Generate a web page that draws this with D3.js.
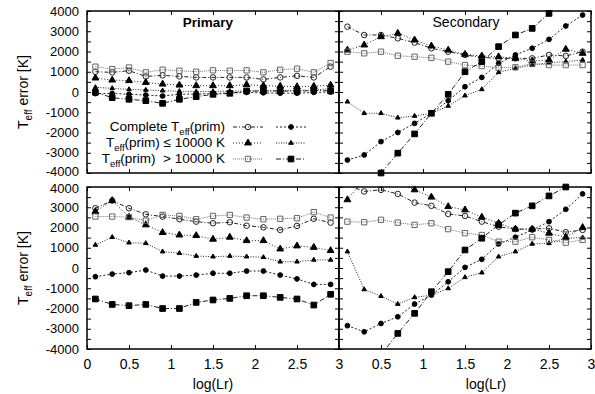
<!DOCTYPE html>
<html><head><meta charset="utf-8">
<script src="https://cdn.jsdelivr.net/npm/d3@7"></script>
<style>
html,body{margin:0;padding:0;background:#fff;}
svg text{font-family:"Liberation Sans",Arial,Helvetica,sans-serif;fill:#000;}
</style></head>
<body><svg id="c" width="595" height="394"></svg>
<script>
// ---------- data ----------
const xPositions = [0.1,0.3,0.5,0.7,0.9,1.1,1.3,1.5,1.7,1.9,2.1,2.3,2.5,2.7,2.9];
const xTickValues = [0,0.5,1,1.5,2,2.5,3];
const yTickValues = [-4000,-3500,-3000,-2500,-2000,-1500,-1000,-500,0,500,1000,1500,2000,2500,3000,3500,4000];
const yLabelValues = [-4000,-3000,-2000,-1000,0,1000,2000,3000,4000];
const panelTitles = ["Primary","Secondary"];
const legendLabels = ["Complete T|eff|(prim)", "T|eff|(prim) \u2264 10000 K", "T|eff|(prim)  > 10000 K"];

// Top row, Primary
const topPriCompleteOpen   = [1000,970,1050,770,820,770,720,720,720,720,620,720,800,720,1250];
const topPriCompleteFilled = [-80,-70,-110,-150,-200,-110,-100,-80,-50,-20,-40,-60,-60,-20,0];
const topPriCoolOpen       = [690,590,560,470,390,340,310,310,310,360,310,290,260,280,340];
const topPriCoolFilled     = [230,180,130,100,65,40,15,30,40,50,60,70,80,90,170];
const topPriHotOpen        = [1250,1130,1210,970,1100,1050,1000,1070,1050,1070,970,1100,1150,970,1430];
const topPriHotFilled      = [-15,-280,-360,-430,-560,-360,-230,-115,-65,50,50,50,30,80,50];
// Top row, Secondary
const topSecCompleteOpen   = [3225,2815,2815,2650,2440,2160,1990,1830,1710,1660,1660,1660,1830,1780,1990];
const topSecCompleteFilled = [-3360,-3110,-2450,-2000,-1550,-1050,-430,260,720,1410,1830,2160,2600,3260,3800];
const topSecCoolOpen       = [2070,2320,2730,2900,2570,2270,2070,1860,1780,1740,1660,1530,1580,2110,1910];
const topSecCoolFilled     = [-480,-1050,-1050,-1270,-1185,-1050,-690,-180,130,970,1170,1330,1450,1500,1580];
const topSecHotOpen        = [1990,1910,1990,1790,1740,1690,1500,1330,1280,1200,1220,1410,1330,1330,1330];
const topSecHotFilled      = [null,null,-4000,-3020,-2070,-1050,-115,1000,1500,2240,2815,3140,3880,4800,null];
// Bottom row, Primary
const botPriCompleteOpen   = [2950,3330,2950,2650,2540,2410,2290,2210,2260,2090,2010,1880,2080,2430,2240];
const botPriCompleteFilled = [-430,-300,-230,-100,-400,-400,-350,-260,-260,-150,-150,-350,-540,-810,-810];
const botPriCoolOpen       = [2790,3330,2510,2130,1750,1630,1600,1420,1520,1350,1350,940,1090,1020,860];
const botPriCoolFilled     = [1140,1520,1250,1220,810,730,590,560,590,560,530,310,310,400,400];
const botPriHotOpen        = [2540,2540,2510,2340,2620,2570,2410,2570,2620,2490,2410,2430,2460,2760,2490];
const botPriHotFilled      = [-1530,-1800,-1860,-1800,-2000,-2000,-1700,-1580,-1500,-1370,-1370,-1450,-1530,-1830,-1300];
// Bottom row, Secondary
const botSecCompleteOpen   = [4100,3780,3860,3660,3230,3070,2670,2570,2290,2040,1920,1920,1960,1770,1880];
const botSecCompleteFilled = [-2850,-3150,-2740,-2410,-1780,-1340,-680,30,430,1190,1520,1880,2290,2900,3660];
const botSecCoolOpen       = [3370,4400,4300,4200,3860,3500,3030,2870,2510,2210,1920,1920,1720,1520,2000];
const botSecCoolFilled     = [810,-1060,-1390,-1780,-1450,-1340,-1010,-460,-230,560,810,1190,1220,1470,1500];
const botSecHotOpen        = [2290,2260,2380,2240,2130,2210,1920,1720,1630,1300,1300,1520,1390,1250,1390];
const botSecHotFilled      = [null,null,-4300,-3230,-2240,-1170,-180,890,1470,2130,2710,3070,3560,4000,null];

// ---------- styles ----------
const seriesStyles = [
  {sym:d3.symbolCircle,   size:24, fill:"none", stroke:"#222", line:"#222", dash:"4,2,1,2"},
  {sym:d3.symbolCircle,   size:18, fill:"#000", stroke:"#000", line:"#222", dash:"2,2"},
  {sym:d3.symbolTriangle, size:20, fill:"#000", stroke:"#000", line:"#222", dash:"1,2"},
  {sym:d3.symbolTriangle, size:9,  fill:"#000", stroke:"#000", line:"#222", dash:"1,1.5"},
  {sym:d3.symbolSquare,   size:28, fill:"none", stroke:"#666", line:"#777", dash:"1,1"},
  {sym:d3.symbolSquare,   size:32, fill:"#000", stroke:"#000", line:"#222", dash:"5,2,1,2"}
];

const panels = [
  {x0:87,  x1:339, y0:11,  y1:173, ylab:true,  xlab:false, title:0, data:[topPriCompleteOpen,topPriCompleteFilled,topPriCoolOpen,topPriCoolFilled,topPriHotOpen,topPriHotFilled]},
  {x0:339, x1:591, y0:11,  y1:173, ylab:false, xlab:false, title:1, data:[topSecCompleteOpen,topSecCompleteFilled,topSecCoolOpen,topSecCoolFilled,topSecHotOpen,topSecHotFilled]},
  {x0:87,  x1:339, y0:187, y1:349, ylab:true,  xlab:true,  title:-1, data:[botPriCompleteOpen,botPriCompleteFilled,botPriCoolOpen,botPriCoolFilled,botPriHotOpen,botPriHotFilled]},
  {x0:339, x1:591, y0:187, y1:349, ylab:false, xlab:true,  title:-1, data:[botSecCompleteOpen,botSecCompleteFilled,botSecCoolOpen,botSecCoolFilled,botSecHotOpen,botSecHotFilled]}
];

const svg = d3.select("#c");
const FS = 14;
const TFS = 13;

function richText(sel, str, subSize, subDy){
  const parts = str.split("|");
  parts.forEach((p,i)=>{
    if(p==="") return;
    const t = sel.append("tspan").text(p);
    if(i%2===1){ t.attr("font-size",subSize).attr("dy",subDy); }
    else if(i>0){ t.attr("dy",-subDy); }
  });
}

panels.forEach((P,pi)=>{
  const x = d3.scaleLinear().domain([0,3]).range([P.x0,P.x1]);
  const y = d3.scaleLinear().domain([-4000,4000]).range([P.y1,P.y0]);
  const g = svg.append("g");
  const clipId = "clip"+pi;
  svg.append("clipPath").attr("id",clipId).append("rect")
    .attr("x",P.x0).attr("y",P.y0).attr("width",P.x1-P.x0).attr("height",P.y1-P.y0);

  // axes
  const left = d3.axisLeft(y).tickValues(yTickValues).tickSize(-4).tickPadding(8)
    .tickFormat(d => (P.ylab && yLabelValues.includes(d)) ? String(d) : "");
  const right = d3.axisRight(y).tickValues(yTickValues).tickSize(-4).tickFormat(()=> "");
  const bottom = d3.axisBottom(x).tickValues(xTickValues).tickSize(-4).tickPadding(10)
    .tickFormat(d => (P.xlab && !(pi===3 && d===0)) ? String(d) : "");
  const top = d3.axisTop(x).tickValues(xTickValues).tickSize(-4).tickFormat(()=> "");
  [[left,`translate(${P.x0},0)`,"l"],[right,`translate(${P.x1},0)`,"r"],[bottom,`translate(0,${P.y1})`,"b"],[top,`translate(0,${P.y0})`,"t"]]
    .forEach(([ax,tr,k])=>{
      const a = g.append("g").attr("transform",tr).call(ax);
      a.select(".domain").remove();
      a.selectAll("line").attr("stroke","#000").attr("stroke-width",1);
      a.selectAll("text").attr("font-size",k==="l"?TFS:FS).attr("font-family","Liberation Sans, Arial, sans-serif").attr("fill","#000");
      if(k==="l"){
        // nudge the extreme labels apart where the two panels meet
        a.selectAll(".tick text").filter(d=>d===-4000 && pi===0).attr("dy","0.2em");
        a.selectAll(".tick text").filter(d=>d===4000 && pi===2).attr("dy","0.42em");
      }
    });

  // series
  P.data.forEach((vals,si)=>{
    const st = seriesStyles[si];
    const pts = xPositions.map((xv,i)=>({x:xv, v:vals[i]}));
    const line = d3.line().defined(d=>d.v!==null).x(d=>x(d.x)).y(d=>y(d.v));
    g.append("path").attr("d",line(pts)).attr("fill","none")
      .attr("stroke",st.line).attr("stroke-width",1).attr("stroke-dasharray",st.dash)
      .attr("clip-path",`url(#${clipId})`);
    const sym = d3.symbol().type(st.sym).size(st.size);
    g.selectAll(null).data(pts.filter(d=>d.v!==null && d.v>=-4000 && d.v<=4000)).enter()
      .append("path").attr("d",sym)
      .attr("transform",d=>`translate(${x(d.x)},${y(d.v)})`)
      .attr("fill",st.fill).attr("stroke",st.stroke).attr("stroke-width",1);
  });

  // frame
  g.append("rect").attr("x",P.x0).attr("y",P.y0).attr("width",P.x1-P.x0).attr("height",P.y1-P.y0)
    .attr("fill","none").attr("stroke","#000").attr("stroke-width",1.5);

  // y label
  if(P.ylab){
    const cy = (P.y0+P.y1)/2;
    const t = svg.append("text").attr("transform",`translate(28,${cy}) rotate(-90)`)
      .attr("text-anchor","middle").attr("font-size",FS);
    richText(t,"T|eff| error [K]",10,4);
  }
  // x label
  if(P.xlab){
    const cx = pi===2 ? (P.x0+P.x1)/2 : 486;
    svg.append("text").attr("x",cx).attr("y",389).attr("text-anchor","middle").attr("font-size",FS).text("log(Lr)");
  }
  // titles
  if(P.title===0){
    svg.append("text").attr("x",208).attr("y",27).attr("text-anchor","middle").attr("font-size",13.5).attr("font-weight","bold").text(panelTitles[0]);
  } else if(P.title===1){
    svg.append("text").attr("x",466).attr("y",27).attr("text-anchor","middle").attr("font-size",FS).text(panelTitles[1]);
  }

  // legend (top-left panel)
  if(pi===0){
    const rowsY = [127,143,159];
    legendLabels.forEach((lab,ri)=>{
      const t = svg.append("text").attr("x",225).attr("y",rowsY[ri]+4).attr("text-anchor","end")
        .attr("font-size",13.5).style("white-space","pre");
      richText(t,lab,9.5,3.5);
      [[233,263,248],[276,306,291]].forEach(([a,b,m],ci)=>{
        const st = seriesStyles[ri*2+ci];
        svg.append("line").attr("x1",a).attr("x2",b).attr("y1",rowsY[ri]).attr("y2",rowsY[ri])
          .attr("stroke",st.line).attr("stroke-width",1).attr("stroke-dasharray",st.dash);
        svg.append("path").attr("d",d3.symbol().type(st.sym).size(st.size)())
          .attr("transform",`translate(${m},${rowsY[ri]})`)
          .attr("fill",st.fill).attr("stroke",st.stroke).attr("stroke-width",1);
      });
    });
  }
});
</script></body></html>
